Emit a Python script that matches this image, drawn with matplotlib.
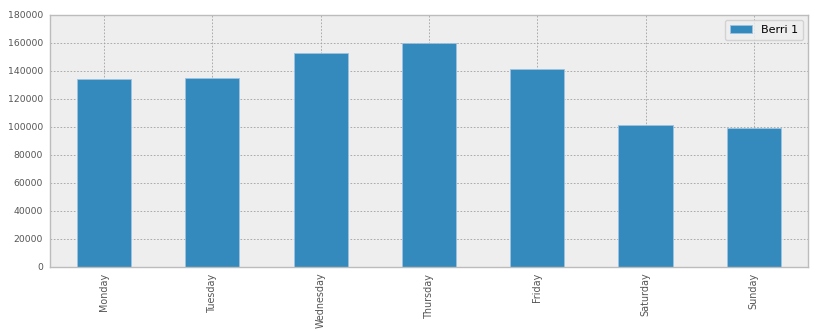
import matplotlib
matplotlib.use("Agg")
import matplotlib.pyplot as plt
import numpy as np

days = ["Monday", "Tuesday", "Wednesday", "Thursday", "Friday", "Saturday", "Sunday"]
berri1 = [134298, 135305, 152972, 160131, 141771, 101578, 99310]
yticks = [0, 20000, 40000, 60000, 80000, 100000, 120000, 140000, 160000, 180000]

fig = plt.figure(figsize=(8.18, 3.32), dpi=100)
ax = fig.add_axes([50/818, 65/332, 758/818, 252/332])
ax.set_facecolor("#EEEEEE")
x = np.arange(len(days))
ax.bar(x, berri1, width=0.5, color="#348ABD", edgecolor="#9CC3DF", linewidth=0.6,
       label="Berri 1", zorder=2)
ax.set_xlim(-0.5, len(days) - 0.5)
ax.set_ylim(0, 180000)
ax.set_yticks(yticks)
ax.set_yticklabels([str(v) for v in yticks])
ax.set_xticks(x)
ax.set_xticklabels(days, rotation=90)
ax.grid(True, color="#A0A0A0", linestyle=(0, (2, 2)), linewidth=0.6, zorder=0)
ax.set_axisbelow(True)
for s in ax.spines.values():
    s.set_color("#BCBCBC")
    s.set_linewidth(1.0)
ax.tick_params(axis="y", length=0, labelsize=6.7, labelcolor="#555555", pad=5)
ax.tick_params(axis="x", length=0, labelsize=6.9, labelcolor="#555555", pad=4)
leg = ax.legend(loc="upper right", fontsize=8, frameon=True, handlelength=2.0,
                borderpad=0.45, borderaxespad=0.45, fancybox=True)
leg.get_frame().set_facecolor("#EEEEEE")
leg.get_frame().set_edgecolor("#CCCCCC")
fig.patch.set_facecolor("white")
fig.savefig("out.png", dpi=100)
